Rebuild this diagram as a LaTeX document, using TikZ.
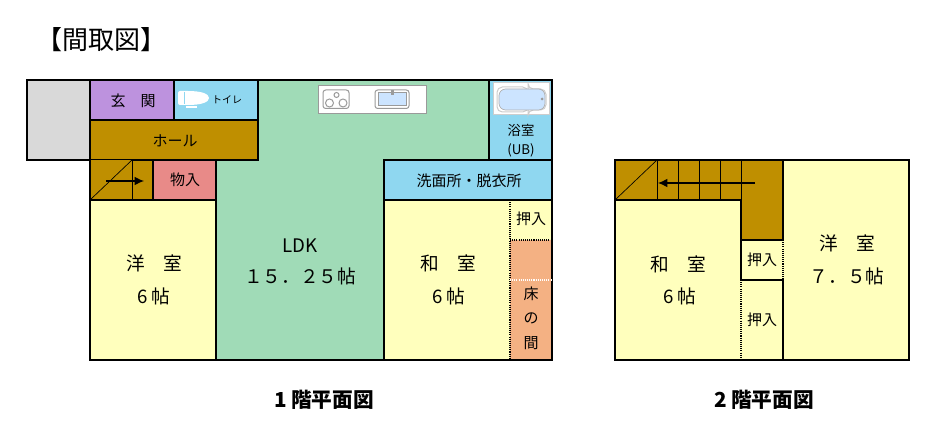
\documentclass[tikz,border=0pt]{standalone}
\usepackage{fontspec}
\setmainfont{Noto Sans CJK JP}
\usetikzlibrary{arrows.meta}
\definecolor{garage}{HTML}{D9D9D9}
\definecolor{entry}{HTML}{BD92DE}
\definecolor{water}{HTML}{8FD7F0}
\definecolor{hall}{HTML}{BF8F00}
\definecolor{ldk}{HTML}{A0DBB7}
\definecolor{bedroom}{HTML}{FFFFBD}
\definecolor{alcove}{HTML}{F4B183}
\definecolor{store}{HTML}{E88A88}
\definecolor{tub}{HTML}{CCE4FF}
\definecolor{fixture}{HTML}{9A9A9A}
\tikzset{
	room/.style={draw=black,line width=1.7pt,line join=miter},
	wall/.style={draw=black,line width=1.7pt,line cap=rect},
	tread/.style={draw=black,line width=0.75pt},
	edge/.style={draw=black,line width=0.5pt},
	slide/.style={draw=black,line width=0.8pt,dash pattern=on 0.8pt off 0.8pt},
	label/.style={inner sep=0pt,yshift=-0.6pt,font=\fontsize{14}{16}\selectfont},
	small/.style={inner sep=0pt,yshift=-0.4pt,font=\fontsize{11.25}{13}\selectfont},
	bathlabel/.style={inner sep=0pt,font=\fontsize{10}{12}\selectfont},
	tiny/.style={inner sep=0pt,font=\fontsize{7.5}{9}\selectfont},
	plan/.style={inner sep=0pt,font=\fontsize{15.5}{18}\selectfont\bfseries},
	updown/.style={line width=0.9pt,-{Latex[length=7pt,width=6.5pt]}}
}
\begin{document}
\begin{tikzpicture}[x=0.75pt,y=-0.75pt]
	\useasboundingbox (0,0) rectangle (943,438);
	\node[anchor=west,inner sep=0pt,font=\fontsize{19.5}{23}\selectfont] (title) at (36,40) {【間取図】};

	\fill[ldk] (216,80) rectangle (489,360);
	\fill[bedroom] (90,200) rectangle (216,360);
	\fill[bedroom] (384,200) rectangle (552,360);
	\fill[alcove] (510,240) rectangle (552,360);
	\draw[room,fill=garage] (27,80) rectangle (90,160);
	\draw[room,fill=entry] (90,80) rectangle (174,120);
	\draw[room,fill=water] (174,80) rectangle (258,120);
	\fill[hall] (90,120) rectangle (258,160);
	\fill[hall] (90,160) rectangle (153,200);
	\draw[room,fill=store] (153,160) rectangle (216,200);
	\draw[room,fill=water] (489,80) rectangle (552,160);
	\draw[room,fill=water] (384,160) rectangle (552,200);

	\draw[wall] (90,120) -- (258,120) -- (258,160) -- (132,160);
	\draw[wall] (90,80) -- (552,80) -- (552,360) -- (90,360) -- cycle;
	\draw[wall] (90,200) -- (216,200);
	\draw[wall] (216,160) -- (216,360);
	\draw[wall] (384,160) -- (384,360);
	\draw[tread] (132,160) -- (132,200);
	\draw[tread] (90,160) -- (132,160);
	\draw[edge] (90,200) -- (132,160);
	\draw[slide] (510,200) -- (510,360);
	\draw[slide] (510,240) -- (552,240);
	\draw[slide,draw=white] (510,280) -- (552,280);
	\coordinate (up1a) at (106,181);
	\coordinate (up1b) at (144,181);
	\draw[updown] (up1a) -- (up1b);

	\fill[white,rounded corners=1.5pt] (178,91) rectangle (190,105);
	\fill[white] (188,91) .. controls (202,91) and (209,94) .. (209,98) .. controls (209,102) and (202,105) .. (188,105) -- cycle;
	\fill[white] (186,106) rectangle (197,108.5);
	\draw[water,line width=0.4pt] (184,92) -- (184,104);

	\draw[fixture,fill=white,line width=0.75pt] (318,85.5) rectangle (426,113.5);
	\draw[fixture,line width=0.75pt,rounded corners=2pt] (323,90) rectangle (349,108.5);
	\draw[fixture,line width=0.75pt] (336.5,95) circle (2.5);
	\draw[fixture,line width=0.75pt] (329.5,103) circle (4);
	\draw[fixture,line width=0.75pt] (343,103) circle (4);
	\draw[fixture,line width=0.75pt,rounded corners=2pt] (375,90) rectangle (409,108.5);
	\draw[fixture,fill=tub,line width=0.75pt] (378,93) rectangle (406,106);
	\fill[fixture] (391,90) rectangle (393.5,95);

	\draw[fixture!50,fill=white,line width=0.75pt] (493.5,83) rectangle (549,114.5);
	\draw[fixture!50,line width=0.75pt,rounded corners=4pt] (497,87) -- (528,87) -- (528,89) -- (546,89) -- (546,110) -- (528,110) -- (528,112) -- (497,112) -- cycle;
	\draw[fixture!80,fill=tub,line width=0.5pt,rounded corners=5pt] (499,89) rectangle (545,110);
	\fill[fixture] (542,99) circle (1.5);

	\node[small] (genkan) at (133,100) {玄\hspace{1em}関};
	\node[tiny] (toilet) at (227,100) {トイレ};
	\node[small] (hallroom) at (175,140) {ホール};
	\node[small] (storage) at (185,179) {物入};
	\node[bathlabel] (yokushitsu) at (521,130) {浴室};
	\node[bathlabel] (ub) at (521,150) {(UB)};
	\node[small] (senmen) at (469,180) {洗面所・脱衣所};
	\node[label] (ldkname) at (300,245) {LDK};
	\node[label] (ldksize) at (300,276) {１５．２５帖};
	\node[label] (yoshitsu) at (154,263) {洋\hspace{1em}室};
	\node[label] (yoshitsusize) at (154,296) {6 帖};
	\node[label] (washitsu) at (448,263) {和\hspace{1em}室};
	\node[label] (washitsusize) at (449,296) {6 帖};
	\node[small] (oshiire) at (531,218) {押入};
	\node[small] (toko) at (531,293) {床};
	\node[small] (no) at (531,318) {の};
	\node[small] (ma) at (531,343) {間};
	\node[plan] (plan1) at (324,400) {1 階平面図};

	\fill[bedroom] (615,160) rectangle (909,360);
	\fill[hall] (615,160) rectangle (783,200);
	\fill[hall] (741,200) rectangle (783,240);
	\draw[wall] (615,160) -- (909,160) -- (909,360) -- (615,360) -- cycle;
	\draw[wall] (615,200) -- (741,200) -- (741,280) -- (783,280) -- (783,360);
	\draw[wall] (741,240) -- (783,240) -- (783,160);
	\foreach \x in {657,678,699,720,741}
		\draw[tread] (\x,160) -- (\x,200);
	\draw[edge] (615,200) -- (657,160);
	\draw[slide] (741,280) -- (741,360);
	\draw[slide] (783,240) -- (783,280);
	\coordinate (up2a) at (755,183);
	\coordinate (up2b) at (658,183);
	\draw[updown] (up2a) -- (up2b);

	\node[label] (washitsu2) at (678,264) {和\hspace{1em}室};
	\node[label] (washitsu2size) at (680,296) {6 帖};
	\node[small] (oshiire2) at (762,259) {押入};
	\node[small] (oshiire3) at (762,319) {押入};
	\node[label] (yoshitsu2) at (847,243) {洋\hspace{1em}室};
	\node[label] (yoshitsu2size) at (847,276) {７．５帖};
	\node[plan] (plan2) at (764,400) {2 階平面図};
\end{tikzpicture}
\end{document}
